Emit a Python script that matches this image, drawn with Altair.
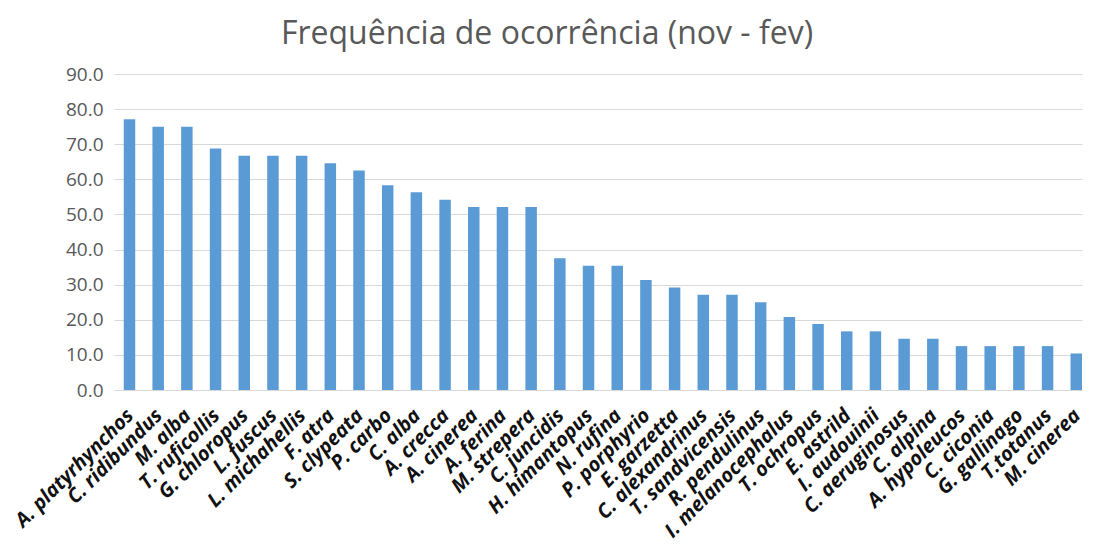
import altair as alt
import pandas as pd

species = [
    "A. platyrhynchos", "C. ridibundus", "M. alba", "T. ruficollis", "G. chloropus",
    "L. fuscus", "L. michahellis", "F. atra", "S. clypeata", "P. carbo", "C. alba",
    "A. crecca", "A. cinerea", "A. ferina", "M. strepera", "C. juncidis",
    "H. himantopus", "N. rufina", "P. porphyrio", "E. garzetta", "C. alexandrinus",
    "T. sandvicensis", "R. pendulinus", "I. melanocephalus", "T. ochropus",
    "E. astrild", "I. audouinii", "C. aeruginosus", "C. alpina", "A. hypoleucos",
    "C. ciconia", "G. gallinago", "T.totanus", "M. cinerea",
]
frequency = [
    77.1, 75.0, 75.0, 68.8, 66.7, 66.7, 66.7, 64.6, 62.5, 58.3, 56.3,
    54.2, 52.1, 52.1, 52.1, 37.5, 35.4, 35.4, 31.3, 29.2, 27.1,
    27.1, 25.0, 20.8, 18.8, 16.7, 16.7, 14.6, 14.6, 12.5,
    12.5, 12.5, 12.5, 10.4,
]
y_ticks = [0, 10, 20, 30, 40, 50, 60, 70, 80, 90]

df = pd.DataFrame({"species": species, "freq": frequency})

chart = (
    alt.Chart(df)
    .mark_bar(color="#5B9BD5")
    .encode(
        x=alt.X(
            "species:N",
            sort=species,
            title=None,
            scale=alt.Scale(paddingInner=0.6, paddingOuter=0.17, align=1),
            axis=alt.Axis(
                labelAngle=-45,
                labelFont="Open Sans",
                labelFontSize=20,
                labelFontWeight="bold",
                labelFontStyle="italic",
                labelColor="#111111",
                labelPadding=15,
                labelOffset=-6,
                ticks=False,
                domain=True,
                domainColor="#d9d9d9",
                domainWidth=1.2,
                labelOverlap=False,
                labelLimit=400,
            ),
        ),
        y=alt.Y(
            "freq:Q",
            title=None,
            scale=alt.Scale(domain=[0, 90], nice=False),
            axis=alt.Axis(
                values=y_ticks,
                format=".1f",
                labelFont="Open Sans",
                labelFontSize=19,
                labelColor="#595959",
                labelPadding=11,
                ticks=False,
                domain=False,
                gridColor="#d9d9d9",
                gridWidth=1.2,
            ),
        ),
    )
    .properties(
        width=968,
        height=316,
        autosize=alt.AutoSizeParams(type="none"),
        padding={"left": 106, "top": 66, "right": 4, "bottom": 152},
        title=alt.TitleParams(
            "Frequência de ocorrência (nov - fev)",
            font="Open Sans",
            fontSize=32,
            fontWeight="normal",
            color="#595959",
            anchor="middle",
            dx=-51,
            offset=14,
        ),
    )
    .configure_view(stroke=None)
)

chart.save("out.html", embed_options={"renderer": "svg", "actions": False})
